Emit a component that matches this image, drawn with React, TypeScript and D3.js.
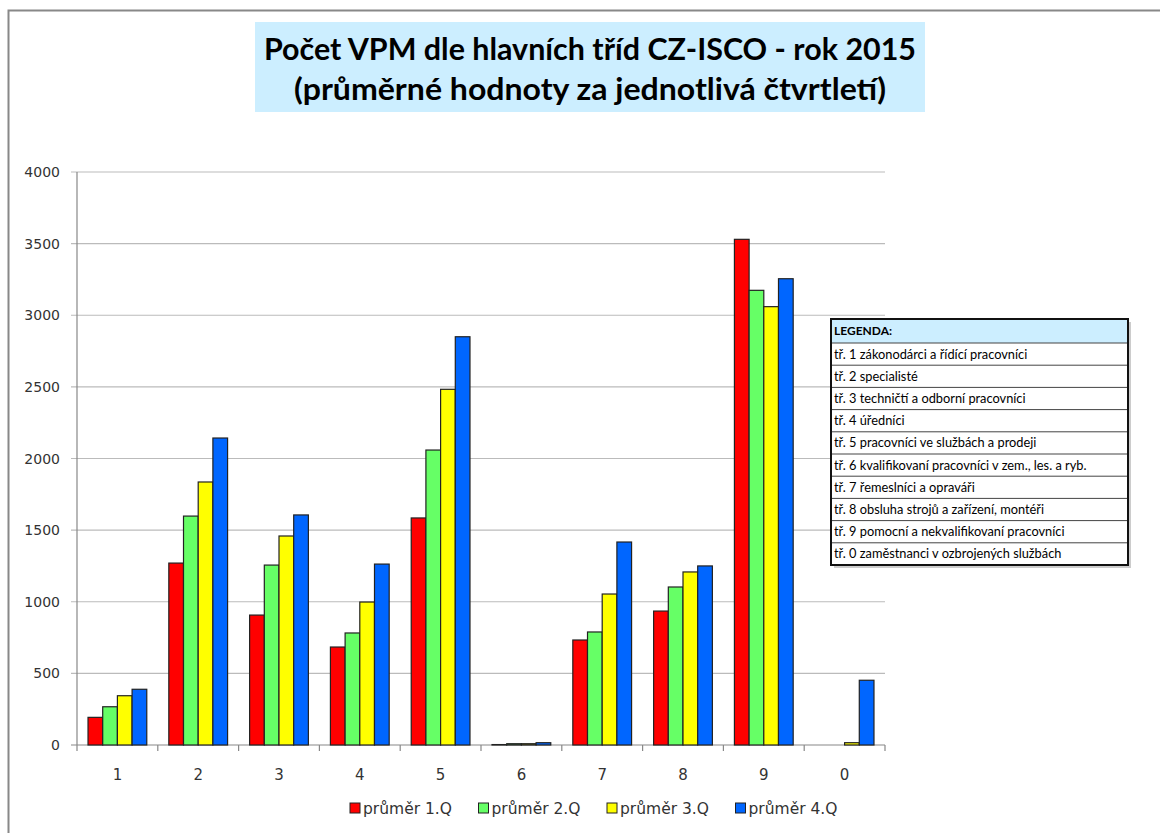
import React from "react";
import * as d3 from "d3";

const categories = ["1", "2", "3", "4", "5", "6", "7", "8", "9", "0"];
const seriesNames = ["průměr 1.Q", "průměr 2.Q", "průměr 3.Q", "průměr 4.Q"];
const q1 = [193, 1270, 907, 684, 1585, 3, 733, 935, 3530, 0];
const q2 = [267, 1598, 1256, 782, 2059, 9, 789, 1103, 3174, 0];
const q3 = [344, 1836, 1459, 998, 2483, 9, 1054, 1208, 3060, 16];
const q4 = [389, 2143, 1606, 1263, 2850, 16, 1417, 1250, 3255, 452];
const seriesColors = ["#FF0000", "#66FF66", "#FFFF00", "#0066FF"];
const yTicks = [0, 500, 1000, 1500, 2000, 2500, 3000, 3500, 4000];
const legendTitle = "LEGENDA:";
const legendRows = [
  "tř. 1 zákonodárci a řídící pracovníci",
  "tř. 2 specialisté",
  "tř. 3 techničtí a odborní pracovníci",
  "tř. 4 úředníci",
  "tř. 5 pracovníci ve službách a prodeji",
  "tř. 6 kvalifikovaní pracovníci v zem., les. a ryb.",
  "tř. 7 řemeslníci a opraváři",
  "tř. 8 obsluha strojů a zařízení, montéři",
  "tř. 9 pomocní a nekvalifikovaní pracovníci",
  "tř. 0 zaměstnanci v ozbrojených službách",
];
const titleLines = [
  "Počet VPM dle hlavních tříd CZ-ISCO - rok 2015",
  "(průměrné hodnoty za jednotlivá čtvrtletí)",
];

export default function App() {
  const series = [q1, q2, q3, q4];
  const x0 = 77, x1 = 885, yBottom = 745, yTop = 172;
  const x = d3.scaleBand<string>().domain(categories).range([x0, x1]).paddingInner(0).paddingOuter(0);
  const y = d3.scaleLinear().domain([0, 4000]).range([yBottom, yTop]);
  const bw = x.bandwidth();
  const barW = bw / (4 + 1.5);
  const gap = (bw - barW * 4) / 2;
  const font = "Lato, 'Open Sans', sans-serif";
  const lgX = 831, lgY = 319, lgW = 297, lgHead = 24, lgRow = 22.2;

  return (
    <svg width={1160} height={833} style={{ position: "absolute", left: 0, top: 0, background: "#fff" }}>
      {/* outer border */}
      <path d="M8.5,833 L8.5,10.5 L1160,10.5" fill="none" stroke="#888" strokeWidth={2} />

      {/* title */}
      <rect x={255} y={22} width={670} height={90} fill="#CCEEFF" />
      <text x={590} y={60} textAnchor="middle" fontFamily={font} fontWeight="bold" fontSize={31} fill="#000" textLength={652} lengthAdjust="spacingAndGlyphs">{titleLines[0]}</text>
      <text x={590} y={100} textAnchor="middle" fontFamily={font} fontWeight="bold" fontSize={31} fill="#000" textLength={592} lengthAdjust="spacingAndGlyphs">{titleLines[1]}</text>

      {/* gridlines */}
      {yTicks.map((t) => (
        <line key={"g" + t} x1={x0 - 6} x2={x1} y1={y(t)} y2={y(t)} stroke={t === 0 ? "#888" : "#bbb"} strokeWidth={1.2} />
      ))}
      {yTicks.map((t) => (
        <text key={"yl" + t} x={60} y={y(t) + 5} textAnchor="end" fontFamily="'DejaVu Sans', Verdana, sans-serif" fontSize={14} fill="#333">{t}</text>
      ))}
      <line x1={x0} x2={x0} y1={yTop} y2={yBottom} stroke="#888" strokeWidth={1.2} />

      {/* x ticks */}
      {[...categories.map((c) => x(c)!), x1].map((px, i) => (
        <line key={"xt" + i} x1={px} x2={px} y1={yBottom} y2={yBottom + 6} stroke="#888" strokeWidth={1.2} />
      ))}
      {categories.map((c) => (
        <text key={"xl" + c} x={x(c)! + bw / 2} y={780} textAnchor="middle" fontFamily="'DejaVu Sans', Verdana, sans-serif" fontSize={15} fill="#333">{c}</text>
      ))}

      {/* bars */}
      {series.map((vals, si) =>
        vals.map((v, ci) =>
          v > 0 ? (
            <rect
              key={`b${si}-${ci}`}
              x={x(categories[ci])! + gap + si * barW}
              y={y(v)}
              width={barW}
              height={yBottom - y(v)}
              fill={seriesColors[si]}
              stroke="#222"
              strokeWidth={1.2}
            />
          ) : null
        )
      )}

      {/* category legend table */}
      <rect x={lgX + 3} y={lgY + 3} width={lgW} height={lgHead + lgRow * legendRows.length} fill="#ccc" />
      <rect x={lgX} y={lgY} width={lgW} height={lgHead + lgRow * legendRows.length} fill="#fff" />
      <rect x={lgX} y={lgY} width={lgW} height={lgHead} fill="#CCEEFF" />
      <text x={lgX + 3} y={lgY + 16} fontFamily={font} fontWeight="bold" fontSize={12} fill="#000">{legendTitle}</text>
      {legendRows.map((r, i) => (
        <g key={"lr" + i}>
          <line x1={lgX} x2={lgX + lgW} y1={lgY + lgHead + i * lgRow} y2={lgY + lgHead + i * lgRow} stroke="#444" strokeWidth={1} />
          <text x={lgX + 3} y={lgY + lgHead + i * lgRow + 15.5} fontFamily={font} fontSize={12.8} fill="#000">{r}</text>
        </g>
      ))}
      <rect x={lgX} y={lgY} width={lgW} height={lgHead + lgRow * legendRows.length} fill="none" stroke="#111" strokeWidth={2} />

      {/* series legend */}
      {seriesNames.map((n, i) => {
        const lx = 350 + i * 128.5;
        return (
          <g key={"sl" + i}>
            <rect x={lx} y={803} width={10} height={10} fill={seriesColors[i]} stroke="#222" strokeWidth={1} />
            <text x={lx + 13} y={814} fontFamily="'DejaVu Sans', Verdana, sans-serif" fontSize={15.5} fill="#333">{n}</text>
          </g>
        );
      })}
    </svg>
  );
}
